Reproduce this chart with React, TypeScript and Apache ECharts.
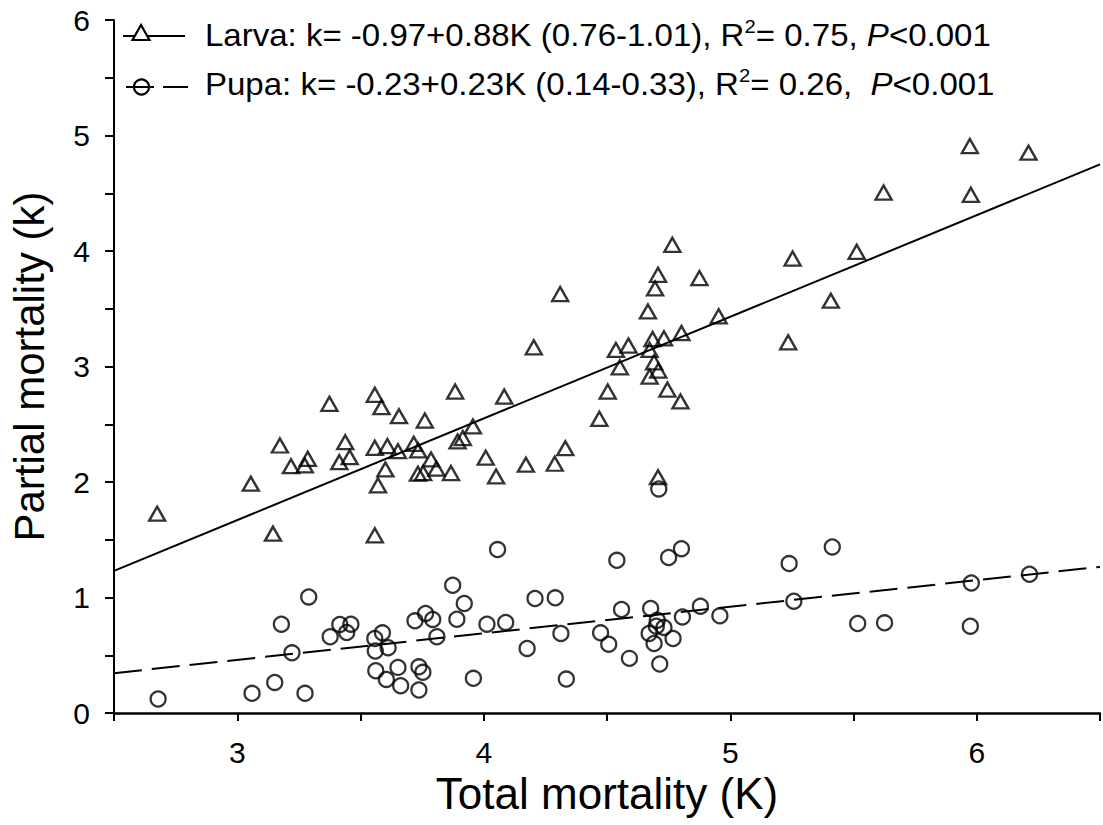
import React, { useEffect, useRef } from 'react';
import * as echarts from 'echarts';

const FONT = '"Liberation Sans", Arial, Helvetica, sans-serif';

// Total mortality (K), partial mortality (k)
const larvaPoints: number[][] = [
  [2.675, 1.726], [3.055, 1.985], [3.145, 1.553], [3.173, 2.316], [3.218, 2.137], [3.274, 2.143],
  [3.286, 2.201], [3.374, 2.677], [3.414, 2.172], [3.438, 2.345], [3.456, 2.215], [3.558, 2.755],
  [3.558, 1.538], [3.558, 2.296], [3.571, 1.971], [3.585, 2.648], [3.601, 2.109], [3.609, 2.311],
  [3.656, 2.57], [3.652, 2.267], [3.716, 2.331], [3.734, 2.273], [3.733, 2.072], [3.761, 2.532],
  [3.754, 2.077], [3.786, 2.195], [3.808, 2.115], [3.867, 2.077], [3.884, 2.783], [3.894, 2.351],
  [3.915, 2.38], [3.956, 2.481], [4.008, 2.21], [4.05, 2.048], [4.083, 2.74], [4.171, 2.15],
  [4.203, 3.166], [4.288, 2.158], [4.31, 3.627], [4.331, 2.293], [4.469, 2.547], [4.503, 2.783],
  [4.536, 3.143], [4.552, 2.993], [4.587, 3.181], [4.666, 3.477], [4.673, 3.143], [4.673, 2.913],
  [4.685, 3.238], [4.691, 3.036], [4.695, 3.676], [4.707, 3.794], [4.708, 2.965], [4.707, 2.042],
  [4.731, 3.244], [4.745, 2.8], [4.765, 4.054], [4.798, 2.697], [4.802, 3.29], [4.875, 3.766],
  [4.953, 3.434], [5.235, 3.209], [5.253, 3.935], [5.408, 3.57], [5.513, 3.993], [5.622, 4.506],
  [5.972, 4.909], [5.976, 4.486], [6.21, 4.851],
];

const pupaPoints: number[][] = [
  [2.679, 0.121], [3.06, 0.17], [3.152, 0.265], [3.179, 0.769], [3.222, 0.521], [3.275, 0.17],
  [3.29, 1.005], [3.377, 0.66], [3.416, 0.766], [3.444, 0.697], [3.461, 0.769], [3.558, 0.645],
  [3.56, 0.536], [3.562, 0.366], [3.589, 0.694], [3.605, 0.291], [3.612, 0.565], [3.652, 0.395],
  [3.663, 0.236], [3.721, 0.798], [3.737, 0.4], [3.737, 0.199], [3.753, 0.352], [3.764, 0.862],
  [3.793, 0.81], [3.81, 0.66], [3.874, 1.106], [3.891, 0.812], [3.921, 0.948], [3.958, 0.3],
  [4.013, 0.769], [4.056, 1.415], [4.089, 0.784], [4.176, 0.559], [4.208, 0.991], [4.29, 0.997],
  [4.313, 0.689], [4.335, 0.294], [4.474, 0.694], [4.507, 0.596], [4.54, 1.322], [4.559, 0.896],
  [4.591, 0.473], [4.671, 0.689], [4.677, 0.905], [4.691, 0.602], [4.7, 0.752], [4.704, 0.804],
  [4.714, 0.424], [4.71, 1.94], [4.731, 0.741], [4.75, 1.346], [4.768, 0.645], [4.802, 1.423],
  [4.806, 0.832], [4.879, 0.925], [4.958, 0.841], [5.239, 1.294], [5.258, 0.968], [5.414, 1.438],
  [5.517, 0.775], [5.626, 0.781], [5.974, 0.752], [5.978, 1.126], [6.214, 1.201],
];

// Regression lines (endpoints at the axis limits): k = -0.97+0.88K and k = -0.23+0.23K
const larvaFit: number[][] = [[2.5, 1.23], [6.5, 4.75]];
const pupaFit: number[][] = [[2.5, 0.345], [6.5, 1.265]];

const larvaLabel = ['Larva: k= -0.97+0.88K (0.76-1.01), R', '2', '= 0.75, ', 'P', '<0.001'];
const pupaLabel = ['Pupa: k= -0.23+0.23K (0.14-0.33), R', '2', '= 0.26,  ', 'P', '<0.001'];

const xTicks = { min: 2.5, max: 6.5, interval: 0.5 };
const yTicks = { min: 0, max: 6, interval: 0.5 };

const richStyles = {
  n: { fontSize: 31, fontFamily: FONT, fill: '#000', lineHeight: 36 },
  s: { fontSize: 19, fontFamily: FONT, fill: '#000', lineHeight: 12, verticalAlign: 'top' },
  i: { fontSize: 31, fontFamily: FONT, fill: '#000', lineHeight: 36, fontStyle: 'italic' },
};

const richText = (p: string[]) => `{n|${p[0]}}{s|${p[1]}}{n|${p[2]}}{i|${p[3]}}{n|${p[4]}}`;

export default function App() {
  const ref = useRef<HTMLDivElement>(null);
  useEffect(() => {
    document.body.style.margin = '0';
    const chart = echarts.init(ref.current!, null, { renderer: 'svg' });
    const intOnly = (v: number) => (Math.abs(v - Math.round(v)) < 1e-9 ? String(Math.round(v)) : '');
    chart.setOption({
      animation: false,
      backgroundColor: '#fff',
      grid: { left: 110, right: 2, top: 20, bottom: 112, containLabel: false },
      xAxis: {
        type: 'value',
        min: xTicks.min,
        max: xTicks.max,
        interval: xTicks.interval,
        name: 'Total mortality (K)',
        nameLocation: 'middle',
        nameGap: 58,
        nameTextStyle: { fontSize: 44, fontFamily: FONT, color: '#000' },
        axisLine: { show: true, onZero: false, lineStyle: { color: '#000', width: 2.5 } },
        axisTick: { show: true, inside: false, length: 8, lineStyle: { color: '#000', width: 2 } },
        axisLabel: { formatter: intOnly, fontSize: 30, fontFamily: FONT, color: '#000', margin: 24 },
        splitLine: { show: false },
      },
      yAxis: {
        type: 'value',
        min: yTicks.min,
        max: yTicks.max,
        interval: yTicks.interval,
        name: 'Partial mortality (k)',
        nameLocation: 'middle',
        nameGap: 64,
        nameTextStyle: { fontSize: 42, fontFamily: FONT, color: '#000' },
        axisLine: { show: true, onZero: false, lineStyle: { color: '#000', width: 2 } },
        axisTick: { show: true, inside: false, length: 9, lineStyle: { color: '#000', width: 2 } },
        axisLabel: { formatter: intOnly, fontSize: 30, fontFamily: FONT, color: '#000', margin: 24 },
        splitLine: { show: false },
      },
      series: [
        {
          type: 'line',
          data: larvaFit,
          symbol: 'none',
          lineStyle: { color: '#000', width: 2 },
          z: 1,
        },
        {
          type: 'line',
          data: pupaFit,
          symbol: 'none',
          lineStyle: { color: '#000', width: 2, type: [28, 10] },
          z: 1,
        },
        {
          type: 'scatter',
          data: larvaPoints,
          symbol: 'triangle',
          symbolSize: [16, 14],
          itemStyle: { color: 'none', borderColor: '#000', borderWidth: 2.4 },
          z: 2,
        },
        {
          type: 'scatter',
          data: pupaPoints,
          symbol: 'circle',
          symbolSize: 15,
          itemStyle: { color: 'none', borderColor: '#000', borderWidth: 2.3 },
          z: 2,
        },
      ],
      graphic: [
        { type: 'line', shape: { x1: 123, y1: 36, x2: 185, y2: 36 }, style: { stroke: '#000', lineWidth: 2 } },
        {
          type: 'polygon',
          shape: { points: [[141, 25], [149.5, 40], [132.5, 40]] },
          style: { fill: '#fff', stroke: '#000', lineWidth: 2.2 },
        },
        { type: 'line', shape: { x1: 126, y1: 87, x2: 154, y2: 87 }, style: { stroke: '#000', lineWidth: 2 } },
        { type: 'circle', shape: { cx: 141.5, cy: 87, r: 7.5 }, style: { fill: 'none', stroke: '#000', lineWidth: 2.2 } },
        { type: 'line', shape: { x1: 163, y1: 87, x2: 188, y2: 87 }, style: { stroke: '#000', lineWidth: 2 } },
        {
          type: 'text',
          x: 205,
          y: 35,
          scaleX: 1.065,
          style: { text: richText(larvaLabel), rich: richStyles, verticalAlign: 'middle', align: 'left' },
        },
        {
          type: 'text',
          x: 205,
          y: 84,
          scaleX: 1.065,
          style: { text: richText(pupaLabel), rich: richStyles, verticalAlign: 'middle', align: 'left' },
        },
      ],
    });
    return () => chart.dispose();
  }, []);
  return <div ref={ref} style={{ width: 1103, height: 825 }} />;
}
